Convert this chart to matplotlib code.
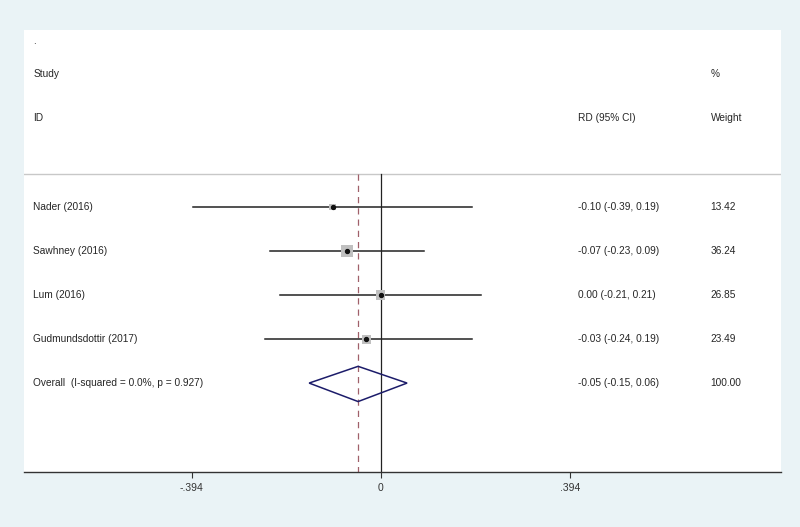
import matplotlib
matplotlib.use("Agg")
import matplotlib.pyplot as plt
from matplotlib.transforms import blended_transform_factory

plt.rcParams["font.family"] = ["Liberation Sans", "DejaVu Sans"]

# data
studies = ["Nader (2016)", "Sawhney (2016)", "Lum (2016)", "Gudmundsdottir (2017)"]
rd = [-0.10, -0.07, 0.00, -0.03]
ci_low = [-0.39, -0.23, -0.21, -0.24]
ci_high = [0.19, 0.09, 0.21, 0.19]
weights = [13.42, 36.24, 26.85, 23.49]
rd_labels = ["-0.10 (-0.39, 0.19)", "-0.07 (-0.23, 0.09)",
             "0.00 (-0.21, 0.21)", "-0.03 (-0.24, 0.19)"]
weight_labels = ["13.42", "36.24", "26.85", "23.49"]

overall_label = "Overall  (I-squared = 0.0%, p = 0.927)"
overall_rd = -0.047
overall_low = -0.149
overall_high = 0.055
overall_rd_label = "-0.05 (-0.15, 0.06)"
overall_weight_label = "100.00"

xticks = [-0.394, 0, 0.394]
xtick_labels = ["-.394", "0", ".394"]

W, H = 800, 527
fig = plt.figure(figsize=(W / 100, H / 100), dpi=100)
fig.patch.set_facecolor("#EAF3F6")

ax = fig.add_axes([24 / W, (H - 472) / H, (781 - 24) / W, (472 - 30) / H])
ax.set_facecolor("white")
ax.set_xlim(-0.743, 0.834)
ax.set_ylim(6.02, -4.02)
for s in ["top", "left", "right"]:
    ax.spines[s].set_visible(False)
ax.spines["bottom"].set_color("#333333")
ax.spines["bottom"].set_linewidth(1.0)
ax.set_yticks([])
ax.set_xticks(xticks)
ax.set_xticklabels(xtick_labels, fontsize=7.5, color="#333333",
                   family=["Liberation Sans Narrow", "Liberation Sans", "DejaVu Sans"])
ax.tick_params(axis="x", direction="out", length=4.5, width=0.8, color="#333333", pad=3.5)

txt = blended_transform_factory(ax.transAxes, ax.transData)
tc = "#262626"
fs = 7.3

# header
ax.text(0.012, -3.78, ".", transform=txt, fontsize=fs, color=tc, va="center")
ax.text(0.012, -3.02, "Study", transform=txt, fontsize=fs, color=tc, va="center")
ax.text(0.012, -2.02, "ID", transform=txt, fontsize=fs, color=tc, va="center")
ax.text(0.7314, -2.02, "RD (95% CI)", transform=txt, fontsize=fs, color=tc, va="center")
ax.text(0.907, -3.02, "%", transform=txt, fontsize=fs, color=tc, va="center")
ax.text(0.907, -2.02, "Weight", transform=txt, fontsize=fs, color=tc, va="center")
ax.axhline(-0.75, color="#C8C8C8", linewidth=1.0)

# reference lines
ax.plot([0, 0], [-0.75, 6.02], color="#222222", linewidth=0.9)
ax.plot([overall_rd, overall_rd], [-0.75, 6.02], color="#A0606A",
        linewidth=0.9, linestyle=(0, (5, 4)))

rows = list(range(len(studies)))
for i in rows:
    ax.plot([ci_low[i], ci_high[i]], [i, i], color="#222222", linewidth=1.1, zorder=3)
ax.scatter(rd, rows, marker="s", s=[1.8 * w for w in weights], color="#C0C0C0",
           linewidths=0, zorder=4)
ax.scatter(rd, rows, marker="o", s=8, color="#111111", zorder=5)

for i in rows:
    ax.text(0.012, i, studies[i], transform=txt, fontsize=fs, color=tc, va="center")
    ax.text(0.7314, i, rd_labels[i], transform=txt, fontsize=fs, color=tc, va="center")
    ax.text(0.907, i, weight_labels[i], transform=txt, fontsize=fs, color=tc, va="center")

# overall diamond
yo = len(studies)
ax.fill([overall_low, overall_rd, overall_high, overall_rd],
        [yo, yo - 0.38, yo, yo + 0.42], facecolor="none", edgecolor="#1C1C6A",
        linewidth=1.1, zorder=4)
ax.text(0.012, yo, overall_label, transform=txt, fontsize=fs, color=tc, va="center")
ax.text(0.7314, yo, overall_rd_label, transform=txt, fontsize=fs, color=tc, va="center")
ax.text(0.907, yo, overall_weight_label, transform=txt, fontsize=fs, color=tc, va="center")

fig.savefig("out.png", dpi=100, facecolor=fig.get_facecolor())
